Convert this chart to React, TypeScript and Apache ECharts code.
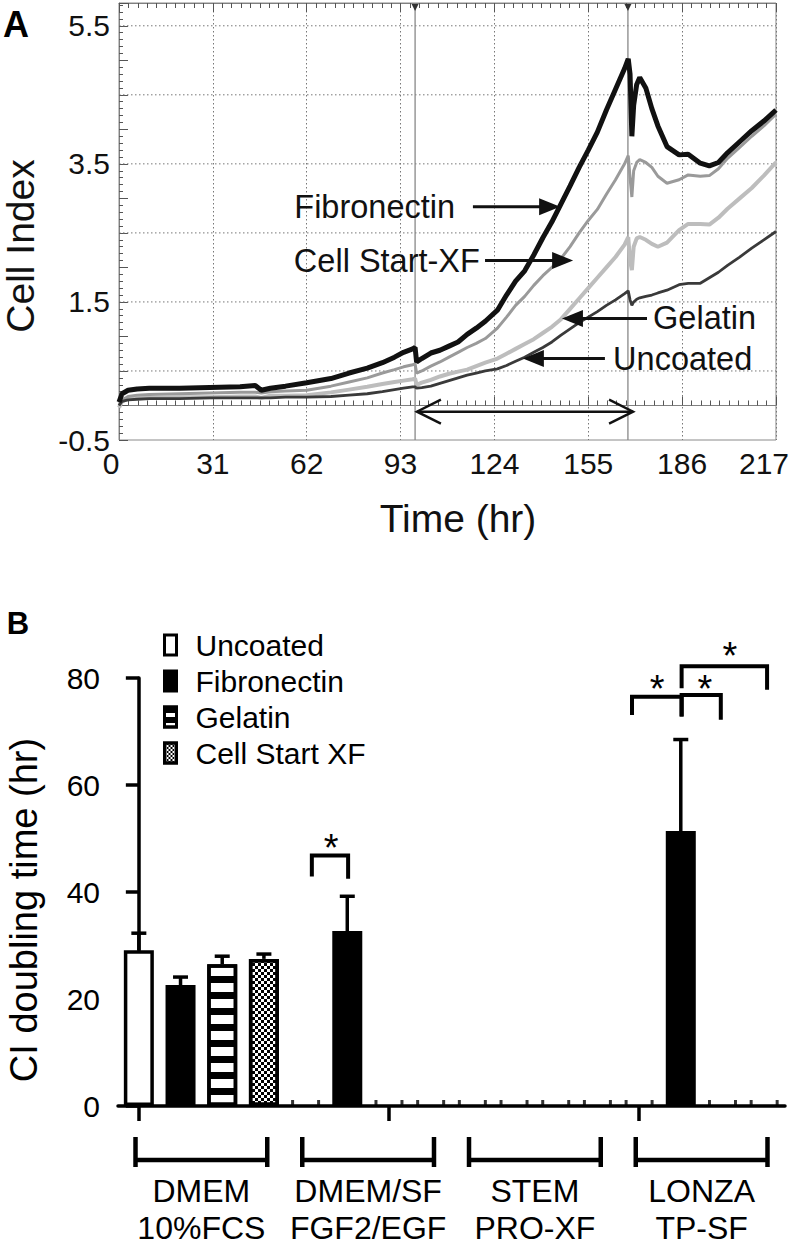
import React, { useEffect, useRef } from "react";
import * as echarts from "echarts";

// ---------------- Panel A : real-time cell index ----------------
const timeHr = [0, 1, 3, 6, 10, 20, 30, 40, 45, 47, 50, 55, 62, 70, 76, 82, 87, 91, 94, 97, 97.8, 98.3, 100, 103, 106, 109, 112, 115, 118, 121, 125, 128, 131, 134, 137, 140, 143, 146, 149, 152, 155, 158, 161, 164, 167, 168.2, 168.8, 169.4, 170, 171, 172, 174, 176, 178, 181, 185, 188, 192, 195, 198, 201, 205, 209, 213, 217];
const fibronectinCI = [0.05, 0.17, 0.22, 0.24, 0.25, 0.25, 0.26, 0.27, 0.29, 0.22, 0.25, 0.28, 0.33, 0.39, 0.47, 0.54, 0.62, 0.7, 0.77, 0.82, 0.84, 0.63, 0.68, 0.76, 0.8, 0.86, 0.92, 1.03, 1.12, 1.22, 1.38, 1.6, 1.8, 1.95, 2.18, 2.43, 2.66, 2.92, 3.18, 3.45, 3.7, 3.96, 4.28, 4.58, 4.88, 5.02, 4.8, 3.9, 4.35, 4.65, 4.75, 4.6, 4.3, 4.05, 3.75, 3.63, 3.64, 3.51, 3.47, 3.52, 3.66, 3.82, 3.98, 4.12, 4.28];
const cellStartCI = [0.0, 0.08, 0.13, 0.15, 0.16, 0.17, 0.18, 0.19, 0.19, 0.18, 0.2, 0.21, 0.22, 0.28, 0.34, 0.4, 0.47, 0.52, 0.56, 0.59, 0.6, 0.47, 0.5, 0.57, 0.63, 0.7, 0.77, 0.84, 0.9, 0.97, 1.12, 1.28, 1.45, 1.58, 1.74, 1.88, 2.0, 2.13, 2.3, 2.5, 2.68, 2.84, 3.06, 3.27, 3.5, 3.62, 3.3, 3.02, 3.4, 3.52, 3.56, 3.52, 3.45, 3.32, 3.22, 3.27, 3.34, 3.32, 3.33, 3.43, 3.58, 3.74, 3.9, 4.05, 4.22];
const gelatinCI = [-0.03, 0.06, 0.1, 0.11, 0.11, 0.12, 0.12, 0.13, 0.13, 0.11, 0.14, 0.14, 0.15, 0.19, 0.23, 0.27, 0.31, 0.34, 0.36, 0.38, 0.39, 0.3, 0.33, 0.37, 0.42, 0.46, 0.49, 0.52, 0.57, 0.62, 0.68, 0.75, 0.82, 0.89, 0.96, 1.05, 1.14, 1.25, 1.4, 1.55, 1.7, 1.85, 2.0, 2.15, 2.33, 2.44, 2.1, 1.96, 2.3, 2.42, 2.44, 2.4, 2.34, 2.3, 2.36, 2.54, 2.63, 2.63, 2.62, 2.72, 2.85, 3.0, 3.15, 3.33, 3.52];
const uncoatedCI = [0.0, 0.06, 0.08, 0.09, 0.1, 0.1, 0.11, 0.11, 0.11, 0.11, 0.11, 0.12, 0.12, 0.13, 0.15, 0.17, 0.2, 0.23, 0.25, 0.27, 0.27, 0.25, 0.26, 0.28, 0.32, 0.36, 0.4, 0.44, 0.47, 0.5, 0.53, 0.58, 0.64, 0.7, 0.77, 0.84, 0.92, 1.02, 1.11, 1.2, 1.28, 1.36, 1.45, 1.53, 1.62, 1.66, 1.53, 1.45, 1.5, 1.54, 1.56, 1.58, 1.6, 1.63, 1.67, 1.75, 1.77, 1.77, 1.85, 1.93, 2.03, 2.15, 2.28, 2.4, 2.52];

const cellIndexGridLevels = [0.5, 1.5, 2.5, 3.5, 4.5, 5.5];
const mediaChangeHr = [97.8, 168.1];
const doublingWindow = [98.4, 169.8, -0.09];

const curveLabelText = ["Fibronectin", "Cell Start-XF", "Gelatin", "Uncoated"];
const curveLabelAlign = ["right", "right", "left", "left"];
const curveLabelTextHr = [111.0, 119.2, 176.4, 163.2];
const curveLabelCI = [2.88, 2.1, 1.26, 0.68];
const curveArrowFromHr = [116.9, 120.9, 174.4, 160.5];
const curveArrowToHr = [145.7, 150.0, 146.3, 133.4];

// ---------------- Panel B : CI doubling time ----------------
const mediaLabels = ["DMEM\n10%FCS", "DMEM/SF\nFGF2/EGF", "STEM\nPRO-XF", "LONZA\nTP-SF"];
const coatingNames = ["Uncoated", "Fibronectin", "Gelatin", "Cell Start XF"];
const uncoatedMean = [29.1, 0, 0, 0];
const uncoatedErr = [3.2, 0, 0, 0];
const fibronectinMean = [22.6, 32.7, 0, 51.4];
const fibronectinErr = [1.5, 6.5, 0, 17.1];
const gelatinMean = [26.5, 0, 0, 0];
const gelatinErr = [1.5, 0, 0, 0];
const cellStartMean = [27.5, 0, 0, 0];
const cellStartErr = [0.9, 0, 0, 0];

// significance brackets (x in bar-slot units, y in hours)
const sigFrom = [4.15, 11.83, 13.02, 13.02];
const sigTo = [5.02, 13.02, 13.96, 15.07];
const sigTop = [46.8, 76.5, 76.8, 82.2];
const sigLeftEnd = [42.9, 73.1, 72.8, 78.1];
const sigRightEnd = [42.5, 72.8, 72.2, 77.8];
const sigStarX = [4.61, 12.43, 13.58, 14.18];
const sigStarY = [49.9, 79.6, 79.6, 85.8];

const FONT = '"Liberation Sans", Arial, Helvetica, sans-serif';

const meansByCoating = [uncoatedMean, fibronectinMean, gelatinMean, cellStartMean];
const errsByCoating = [uncoatedErr, fibronectinErr, gelatinErr, cellStartErr];
const slotNames: string[] = [];
mediaLabels.forEach((m) => coatingNames.forEach((c) => slotNames.push(m.replace("\n", " ") + " " + c)));

function buildOption(): any {
  const lineSeries = (name: string, vals: number[], color: string, width: number, z: number) => ({
    type: "line",
    name,
    xAxisIndex: 0,
    yAxisIndex: 0,
    data: timeHr.map((t, i) => [t, vals[i]]),
    symbol: "none",
    showSymbol: false,
    lineStyle: { color, width },
    z,
    silent: true,
  });

  const barStyles: any[] = [
    { color: "#fff", borderColor: "#000", borderWidth: 3.5 },
    { color: "#000", borderColor: "#000", borderWidth: 3.5 },
    {
      color: "#fff",
      borderColor: "#000",
      borderWidth: 3.5,
      decal: { symbol: "rect", symbolSize: 1, color: "#000", dashArrayX: [1, 0], dashArrayY: [7, 9], rotation: 0 },
    },
    {
      color: "#fff",
      borderColor: "#000",
      borderWidth: 3.5,
      decal: { symbol: "rect", symbolSize: 1, color: "#000", dashArrayX: [[3, 3], [0, 3, 3, 0]], dashArrayY: [3, 0], rotation: 0 },
    },
  ];
  const legendStyles: any[] = [
    { color: "#fff", borderColor: "#000", borderWidth: 3 },
    { color: "#000", borderColor: "#000", borderWidth: 3 },
    {
      color: "#fff",
      borderColor: "#000",
      borderWidth: 3,
      decal: { symbol: "rect", symbolSize: 1, color: "#000", dashArrayX: [1, 0], dashArrayY: [6, 4], rotation: 0 },
    },
    {
      color: "#fff",
      borderColor: "#000",
      borderWidth: 3,
      decal: { symbol: "rect", symbolSize: 1, color: "#000", dashArrayX: [[2, 2], [0, 2, 2, 0]], dashArrayY: [2, 0], rotation: 0 },
    },
  ];

  const barSeries = coatingNames.map((name, c) => {
    const data: any[] = slotNames.map(() => "-");
    meansByCoating[c].forEach((v, m) => {
      if (v > 0) data[m * 4 + c] = v;
    });
    return {
      type: "bar",
      name,
      xAxisIndex: 2,
      yAxisIndex: 1,
      data,
      barWidth: 30,
      barGap: "-100%",
      color: barStyles[c].color,
      itemStyle: barStyles[c],
      z: 2,
      silent: true,
    };
  });

  const errData: number[][] = [];
  const zeroData: number[][] = [];
  coatingNames.forEach((_, c) => {
    meansByCoating[c].forEach((v, m) => {
      if (v > 0) errData.push([m * 4 + c, v, errsByCoating[c][m]]);
      else zeroData.push([m * 4 + c, 0]);
    });
  });

  const sigData = sigFrom.map((_, i) => [sigFrom[i], sigTo[i], sigTop[i], sigLeftEnd[i], sigRightEnd[i], sigStarX[i], sigStarY[i]]);

  return {
    animation: false,
    backgroundColor: "#fff",
    textStyle: { fontFamily: FONT },
    grid: [
      { left: 119, top: 3, width: 657, height: 437, show: true, borderColor: "#8a8a8a", borderWidth: 1, backgroundColor: "transparent" },
      { left: 118, top: 678, width: 667, height: 431 },
    ],
    legend: {
      data: coatingNames.map((n, c) => ({ name: n, itemStyle: legendStyles[c] })),
      orient: "vertical",
      left: 158,
      top: 625,
      itemWidth: 12,
      itemHeight: 20,
      itemGap: 6,
      icon: "rect",
      selectedMode: false,
      textStyle: { fontSize: 30, color: "#000", fontFamily: FONT, padding: [0, 0, 0, 14] },
    },
    xAxis: [
      {
        type: "value",
        gridIndex: 0,
        min: 0,
        max: 217,
        interval: 31,
        position: "bottom",
        axisLine: { show: true, lineStyle: { color: "#808080", width: 1 } },
        axisTick: { show: true, inside: true, length: 9, lineStyle: { color: "#555", width: 1 } },
        minorTick: { show: true, splitNumber: 10, length: 5, lineStyle: { color: "#555", width: 1 } },
        axisLabel: {
          fontSize: 30,
          color: "#111",
          fontFamily: FONT,
          margin: 8,
          formatter: (v: number) => (v === 0 ? "{a|0}" : v === 217 ? "{b|217}" : String(v)),
          rich: {
            a: { fontSize: 30, color: "#111", fontFamily: FONT, padding: [0, 16, 0, 0] },
            b: { fontSize: 30, color: "#111", fontFamily: FONT, padding: [0, 24, 0, 0] },
          },
        },
        splitLine: { show: true, lineStyle: { color: "#777", width: 1, type: [1.5, 2.5] } },
      },
      {
        type: "value",
        gridIndex: 0,
        min: 0,
        max: 217,
        interval: 31,
        position: "top",
        axisLine: { show: true, lineStyle: { color: "#808080", width: 1 } },
        axisTick: { show: true, inside: true, length: 9, lineStyle: { color: "#555", width: 1 } },
        minorTick: { show: true, splitNumber: 10, length: 5, lineStyle: { color: "#555", width: 1 } },
        axisLabel: { show: false },
        splitLine: { show: false },
      },
      {
        type: "category",
        gridIndex: 1,
        data: slotNames,
        position: "bottom",
        offset: 0,
        axisLine: { show: true, lineStyle: { color: "#000", width: 3.5 } },
        axisTick: { show: true, alignWithLabel: true, length: 15, lineStyle: { color: "#000", width: 3.5 } },
        axisLabel: { show: false },
        splitLine: { show: false },
      },
      {
        type: "category",
        gridIndex: 1,
        data: mediaLabels,
        position: "bottom",
        offset: 0,
        axisLine: { show: false },
        axisTick: { show: false },
        axisLabel: { interval: 0, fontSize: 32, lineHeight: 37, margin: 66, color: "#000", fontFamily: FONT },
        splitLine: { show: false },
      },
      { type: "value", gridIndex: 1, min: -0.5, max: 15.5, show: false },
    ],
    yAxis: [
      {
        type: "value",
        gridIndex: 0,
        min: -0.5,
        max: 5.83,
        interval: 0.5,
        axisLine: { show: true, lineStyle: { color: "#808080", width: 1 } },
        axisTick: { show: true, inside: true, length: 9, lineStyle: { color: "#555", width: 1 } },
        minorTick: { show: true, splitNumber: 5, length: 4, lineStyle: { color: "#555", width: 1 } },
        axisLabel: {
          fontSize: 30,
          color: "#111",
          fontFamily: FONT,
          margin: 9,
          formatter: (v: number) => {
            const k = (v + 0.5) / 2;
            return Math.abs(k - Math.round(k)) < 1e-6 && v < 5.7 ? v.toFixed(1) : "";
          },
        },
        splitLine: { show: false },
      },
      {
        type: "value",
        gridIndex: 1,
        min: 0,
        max: 80,
        interval: 20,
        axisLine: { show: true, lineStyle: { color: "#000", width: 3.5 } },
        axisTick: { show: true, length: 13, lineStyle: { color: "#000", width: 3.5 } },
        axisLabel: { fontSize: 30, color: "#000", fontFamily: FONT, margin: 18 },
        splitLine: { show: false },
      },
    ],
    graphic: [
      { type: "text", x: 16, y: 24, style: { text: "A", fontSize: 36, fontWeight: "bold", fontFamily: FONT, fill: "#000", align: "center", verticalAlign: "middle", textAlign: "center", textVerticalAlign: "middle" } },
      { type: "text", x: 18, y: 623, style: { text: "B", fontSize: 31, fontWeight: "bold", fontFamily: FONT, fill: "#000", align: "center", verticalAlign: "middle", textAlign: "center", textVerticalAlign: "middle" } },
      { type: "text", x: 20, y: 246, rotation: Math.PI / 2, style: { text: "Cell Index", fontSize: 39, fontFamily: FONT, fill: "#111", align: "center", verticalAlign: "middle", textAlign: "center", textVerticalAlign: "middle" } },
      { type: "text", x: 458, y: 518, style: { text: "Time (hr)", fontSize: 39, fontFamily: FONT, fill: "#111", align: "center", verticalAlign: "middle", textAlign: "center", textVerticalAlign: "middle" } },
      { type: "text", x: 24, y: 910, rotation: Math.PI / 2, style: { text: "CI doubling time (hr)", fontSize: 38, fontFamily: FONT, fill: "#000", align: "center", verticalAlign: "middle", textAlign: "center", textVerticalAlign: "middle" } },
    ],
    series: [
      {
        type: "custom",
        xAxisIndex: 0,
        yAxisIndex: 0,
        silent: true,
        z: 1,
        data: cellIndexGridLevels.map((v) => [0, v]),
        renderItem: (params: any, api: any) => {
          const cs = params.coordSys;
          const y = api.coord([0, api.value(1)])[1];
          return { type: "line", shape: { x1: cs.x, y1: y, x2: cs.x + cs.width, y2: y }, style: { stroke: "#777", lineWidth: 1, lineDash: [1.5, 2.5] } };
        },
      },
      {
        type: "custom",
        xAxisIndex: 0,
        yAxisIndex: 0,
        silent: true,
        z: 1,
        data: mediaChangeHr.map((t) => [t, 0]),
        renderItem: (params: any, api: any) => {
          const cs = params.coordSys;
          const x = api.coord([api.value(0), 0])[0];
          return {
            type: "group",
            children: [
              { type: "line", shape: { x1: x, y1: cs.y, x2: x, y2: cs.y + cs.height }, style: { stroke: "#888", lineWidth: 1.3 } },
              { type: "polygon", shape: { points: [[x - 3.5, cs.y + 1], [x + 3.5, cs.y + 1], [x, cs.y + 8]] }, style: { fill: "#333" } },
            ],
          };
        },
      },
      lineSeries("Gelatin", gelatinCI, "#bdbdbd", 4, 3),
      lineSeries("Cell Start-XF", cellStartCI, "#9a9a9a", 3, 4),
      lineSeries("Uncoated", uncoatedCI, "#3a3a3a", 2.8, 5),
      lineSeries("Fibronectin", fibronectinCI, "#111", 5, 6),
      {
        type: "custom",
        xAxisIndex: 0,
        yAxisIndex: 0,
        silent: true,
        z: 7,
        data: [doublingWindow],
        renderItem: (params: any, api: any) => {
          const p0 = api.coord([api.value(0), api.value(2)]);
          const p1 = api.coord([api.value(1), api.value(2)]);
          const st = { stroke: "#111", lineWidth: 2.4, fill: "none" };
          return {
            type: "group",
            children: [
              { type: "line", shape: { x1: p0[0], y1: p0[1], x2: p1[0], y2: p1[1] }, style: st },
              { type: "polyline", shape: { points: [[p0[0] + 24, p0[1] - 12], [p0[0], p0[1]], [p0[0] + 24, p0[1] + 12]] }, style: st },
              { type: "polyline", shape: { points: [[p1[0] - 24, p1[1] - 12], [p1[0], p1[1]], [p1[0] - 24, p1[1] + 12]] }, style: st },
            ],
          };
        },
      },
      {
        type: "custom",
        xAxisIndex: 0,
        yAxisIndex: 0,
        silent: true,
        z: 8,
        data: curveLabelText.map((_, i) => [curveLabelTextHr[i], curveLabelCI[i], curveArrowFromHr[i], curveArrowToHr[i], i]),
        renderItem: (params: any, api: any) => {
          const i = api.value(4);
          const v = api.value(1);
          const tp = api.coord([api.value(0), v]);
          const f = api.coord([api.value(2), v]);
          const t = api.coord([api.value(3), v]);
          const dir = t[0] > f[0] ? 1 : -1;
          const al = curveLabelAlign[i];
          return {
            type: "group",
            children: [
              { type: "line", shape: { x1: f[0], y1: f[1], x2: t[0] - dir * 16, y2: t[1] }, style: { stroke: "#111", lineWidth: 3 } },
              { type: "polygon", shape: { points: [[t[0], t[1]], [t[0] - dir * 21, t[1] - 8.5], [t[0] - dir * 21, t[1] + 8.5]] }, style: { fill: "#111" } },
              {
                type: "text",
                x: tp[0],
                y: tp[1],
                style: { text: curveLabelText[i], fontSize: 32.5, fontFamily: FONT, fill: "#111", align: al, verticalAlign: "middle", textAlign: al, textVerticalAlign: "middle" },
              },
            ],
          };
        },
      },
      ...barSeries,
      {
        type: "custom",
        xAxisIndex: 2,
        yAxisIndex: 1,
        silent: true,
        z: 3,
        data: errData,
        renderItem: (params: any, api: any) => {
          const x = api.value(0);
          const m = api.value(1);
          const e = api.value(2);
          const p0 = api.coord([x, m]);
          const p1 = api.coord([x, m + e]);
          const st = { stroke: "#000", lineWidth: 3.5 };
          return {
            type: "group",
            children: [
              { type: "line", shape: { x1: p0[0], y1: p0[1], x2: p1[0], y2: p1[1] }, style: st },
              { type: "line", shape: { x1: p1[0] - 7.5, y1: p1[1], x2: p1[0] + 7.5, y2: p1[1] }, style: st },
            ],
          };
        },
      },
      {
        type: "scatter",
        xAxisIndex: 2,
        yAxisIndex: 1,
        silent: true,
        z: 3,
        data: zeroData,
        symbol: "rect",
        symbolSize: [3, 6],
        symbolOffset: [-13, -3],
        itemStyle: { color: "#000" },
      },
      {
        type: "scatter",
        xAxisIndex: 2,
        yAxisIndex: 1,
        silent: true,
        z: 3,
        data: zeroData,
        symbol: "rect",
        symbolSize: [3, 6],
        symbolOffset: [13, -3],
        itemStyle: { color: "#000" },
      },
      {
        type: "custom",
        xAxisIndex: 4,
        yAxisIndex: 1,
        silent: true,
        clip: false,
        z: 4,
        data: sigData,
        renderItem: (params: any, api: any) => {
          const a = api.coord([api.value(0), api.value(2)]);
          const b = api.coord([api.value(1), api.value(2)]);
          const la = api.coord([api.value(0), api.value(3)]);
          const rb = api.coord([api.value(1), api.value(4)]);
          const s = api.coord([api.value(5), api.value(6)]);
          return {
            type: "group",
            children: [
              { type: "polyline", shape: { points: [la, a, b, rb] }, style: { stroke: "#000", lineWidth: 4, fill: "none" } },
              {
                type: "text",
                x: s[0],
                y: s[1] + 9,
                style: { text: "*", fontSize: 38, fontFamily: FONT, fill: "#000", align: "center", verticalAlign: "middle", textAlign: "center", textVerticalAlign: "middle" },
              },
            ],
          };
        },
      },
      {
        type: "custom",
        xAxisIndex: 3,
        yAxisIndex: 1,
        silent: true,
        clip: false,
        z: 4,
        data: mediaLabels.map((_, g) => [g, 0]),
        renderItem: (params: any, api: any) => {
          const c = api.coord([api.value(0), 0]);
          const bw = api.size([1, 0])[0];
          const h = bw * 0.395;
          const st = { stroke: "#000", lineWidth: 4.5 };
          return {
            type: "group",
            children: [
              { type: "line", shape: { x1: c[0] - h, y1: c[1] + 54, x2: c[0] + h, y2: c[1] + 54 }, style: st },
              { type: "line", shape: { x1: c[0] - h, y1: c[1] + 31, x2: c[0] - h, y2: c[1] + 61 }, style: st },
              { type: "line", shape: { x1: c[0] + h, y1: c[1] + 31, x2: c[0] + h, y2: c[1] + 61 }, style: st },
            ],
          };
        },
      },
    ],
  };
}

export default function App() {
  const ref = useRef<HTMLDivElement>(null);
  useEffect(() => {
    if (!ref.current) return;
    const chart = echarts.init(ref.current, undefined, { renderer: "svg" });
    chart.setOption(buildOption());
    return () => chart.dispose();
  }, []);
  return <div ref={ref} style={{ position: "absolute", left: 0, top: 0, width: 792, height: 1246, background: "#fff" }} />;
}
